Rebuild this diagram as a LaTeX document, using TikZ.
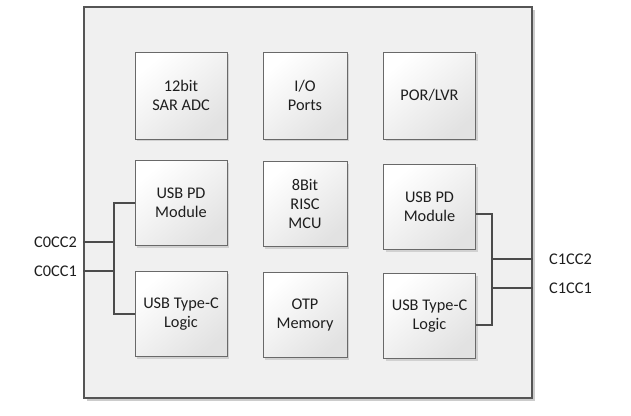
\documentclass[tikz,border=0pt]{standalone}
\usepackage{fontspec}
\setmainfont{Carlito}
\usepackage{xcolor}
\usepackage{tikz}
\usetikzlibrary{positioning, shadows, calc}
\definecolor{chipfill}{RGB}{240,240,240}
\definecolor{chipline}{RGB}{85,85,85}
\definecolor{blkline}{RGB}{105,105,105}
\definecolor{blkshade}{RGB}{226,226,226}
\definecolor{wirecol}{RGB}{75,75,75}
\definecolor{txt}{RGB}{30,30,30}
\tikzset{
  chip/.style={rectangle, draw=chipline, line width=1.3pt, fill=chipfill,
               minimum width=448pt, minimum height=391pt,
               drop shadow={shadow xshift=3pt, shadow yshift=-3pt, fill=black!20, opacity=1}},
  blk/.style={rectangle, draw=blkline, line width=0.8pt, top color=white, bottom color=blkshade,
              shading angle=40, minimum height=85pt, align=center, text=txt,
              font=\fontsize{16.3}{19}\selectfont,
              drop shadow={shadow xshift=2pt, shadow yshift=-2pt, fill=black!18, opacity=1}},
  side/.style={blk, minimum width=92pt},
  mid/.style={blk, minimum width=84pt},
  pin/.style={font=\fontsize{16.3}{19}\selectfont, text=txt, inner sep=2pt},
  wire/.style={draw=wirecol, line width=2.2pt},
}

\begin{document}
\begin{tikzpicture}[x=1pt, y=-1pt]
\useasboundingbox (0,0) rectangle (631,415);
% chip outline
\node[chip] (chip) at (308,202.5) {};

% functional blocks
\node[side, minimum height=87pt] (adc) at (181,95.5) {12bit\\SAR ADC};
\node[mid, minimum height=87pt]  (io)  at (305,95.5) {I/O\\Ports};
\node[side, minimum height=87pt] (por) at (429.5,95.5) {POR/LVR};
\node[side] (pdL) at (181,203)   {USB PD\\Module};
\node[mid]  (mcu) at (305,204)   {8Bit\\RISC\\MCU};
\node[side] (pdR) at (429.5,207) {USB PD\\Module};
\node[side] (tcL) at (181,314)   {USB Type-C\\Logic};
\node[mid]  (otp) at (305,315)   {OTP\\Memory};
\node[side] (tcR) at (429.5,316) {USB Type-C\\Logic};

% CC pins
\node[pin, anchor=east] (c0b) at (79,242) {C0CC2};
\node[pin, anchor=east] (c0a) at (79,271) {C0CC1};
\node[pin, anchor=west] (c1b) at (547,259) {C1CC2};
\node[pin, anchor=west] (c1a) at (547,288) {C1CC1};
\coordinate (jl) at (114,0);
\coordinate (jr) at (492,0);

% left bus
\draw[wire] (pdL.west) -- (pdL.west -| jl) |- (tcL.west);
\draw[wire] (chip.west |- c0b) -- (jl |- c0b);
\draw[wire] (chip.west |- c0a) -- (jl |- c0a);
% right bus
\draw[wire] ([yshift=-7pt]pdR.east) -- ([yshift=-7pt]pdR.east -| jr) |- ([yshift=-9pt]tcR.east);
\draw[wire] (chip.east |- c1b) -- (jr |- c1b);
\draw[wire] (chip.east |- c1a) -- (jr |- c1a);

\end{tikzpicture}
\end{document}
